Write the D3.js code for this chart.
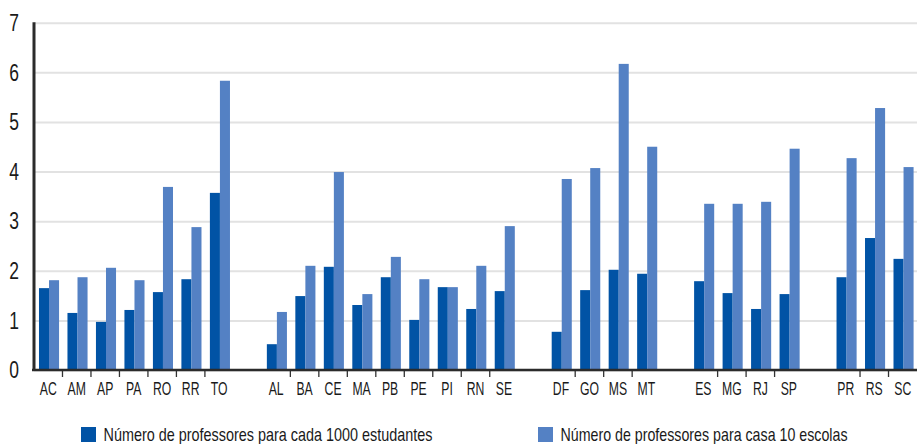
<!DOCTYPE html>
<html>
<head>
<meta charset="utf-8">
<script src="https://cdn.jsdelivr.net/npm/d3@7"></script>
<style>
  html, body { margin: 0; padding: 0; background: #fff; }
  svg { display: block; }
  text { font-family: "Liberation Sans Narrow", "Liberation Sans", Arial, sans-serif; fill: #1a1a1a; }
</style>
</head>
<body>
<svg id="chart" width="917" height="444"></svg>
<script>
// States grouped by region; "" marks the empty slot between regions
const categories = ["AC","AM","AP","PA","RO","RR","TO","",
                    "AL","BA","CE","MA","PB","PE","PI","RN","SE","",
                    "DF","GO","MS","MT","",
                    "ES","MG","RJ","SP","",
                    "PR","RS","SC"];
const professoresPor1000Estudantes = [1.65,1.15,0.97,1.21,1.57,1.83,3.57,null,
                    0.52,1.49,2.08,1.31,1.87,1.01,1.67,1.23,1.59,null,
                    0.77,1.61,2.02,1.94,null,
                    1.79,1.55,1.23,1.53,null,
                    1.87,2.66,2.24];
const professoresPor10Escolas = [1.81,1.87,2.06,1.81,3.69,2.88,5.83,null,
                    1.17,2.10,3.99,1.53,2.28,1.83,1.67,2.10,2.90,null,
                    3.85,4.07,6.17,4.50,null,
                    3.35,3.35,3.39,4.46,null,
                    4.27,5.28,4.09];
const seriesNames = ["Número de professores para cada 1000 estudantes",
                     "Número de professores para casa 10 escolas"];
const seriesColors = ["#0153a5", "#5481c4"];
const yTicks = [0,1,2,3,4,5,6,7];

const svg = d3.select("#chart");
const mLeft = 34, mRight = 917, mTop = 22.7, mBottom = 370;

const x = d3.scaleBand().domain(d3.range(categories.length)).range([mLeft, mRight]).padding(0);
const bw = x.bandwidth();
const x1 = d3.scaleBand().domain([0, 1]).range([bw * 0.175, bw * 0.88]).padding(0);
const y = d3.scaleLinear().domain([0, 7]).range([mBottom, mTop]);

// grid + y labels
const sy = 0.76;
const gy = svg.append("g").attr("transform", `translate(${mLeft},0)`)
  .call(d3.axisLeft(y).tickValues(yTicks).tickFormat(d3.format("d"))
          .tickSize(-(mRight - mLeft)).tickPadding(0));
gy.select(".domain").remove();
gy.selectAll(".tick line").attr("stroke", "#e2e2e2").attr("stroke-width", 2);
gy.selectAll(".tick text")
  .attr("x", -15 / sy).attr("dy", "0.34em")
  .attr("transform", `scale(${sy},1)`)
  .style("font-size", "23px").attr("fill", "#1a1a1a");

// bars
const series = [professoresPor1000Estudantes, professoresPor10Escolas];
series.forEach((vals, s) => {
  svg.append("g").selectAll("rect")
    .data(vals.map((v, i) => ({ v, i })).filter(d => d.v != null))
    .join("rect")
    .attr("x", d => x(d.i) + x1(s))
    .attr("width", x1.bandwidth())
    .attr("y", d => y(d.v))
    .attr("height", d => y(0) - y(d.v))
    .attr("fill", seriesColors[s]);
});

// x axis labels
const sx = 0.66;
const gx = svg.append("g").attr("transform", `translate(0,${mBottom})`)
  .call(d3.axisBottom(x).tickFormat(i => categories[i]).tickSize(0));
gx.select(".domain").remove();
gx.selectAll(".tick text")
  .attr("y", 25).attr("dy", 0)
  .attr("transform", `scale(${sx},1)`)
  .style("font-size", "18.5px").attr("fill", "#1a1a1a");

// small separator ticks between neighbouring states
const sepIdx = d3.range(1, categories.length).filter(i => categories[i - 1] && categories[i]);
svg.append("g").selectAll("line").data(sepIdx).join("line")
  .attr("x1", i => x(i)).attr("x2", i => x(i))
  .attr("y1", mBottom).attr("y2", mBottom + 7)
  .attr("stroke", "#333").attr("stroke-width", 1.3);

// axis lines
svg.append("line").attr("x1", mLeft - 2).attr("x2", mRight).attr("y1", y(0)).attr("y2", y(0))
  .attr("stroke", "#2b2b2b").attr("stroke-width", 2.5);
svg.append("line").attr("x1", mLeft).attr("x2", mLeft).attr("y1", y(7) - 0.5).attr("y2", y(0) + 1)
  .attr("stroke", "#2b2b2b").attr("stroke-width", 3);

// legend
const legendX = [81, 538];
const legendW = [329, 287];
seriesNames.forEach((name, s) => {
  const g = svg.append("g").attr("transform", `translate(${legendX[s]},427)`);
  g.append("rect").attr("width", 15).attr("height", 15).attr("fill", seriesColors[s]);
  g.append("text").attr("x", 22.5).attr("y", 14)
    .attr("textLength", legendW[s]).attr("lengthAdjust", "spacingAndGlyphs")
    .style("font-size", "17.7px").text(name);
});
</script>
</body>
</html>
